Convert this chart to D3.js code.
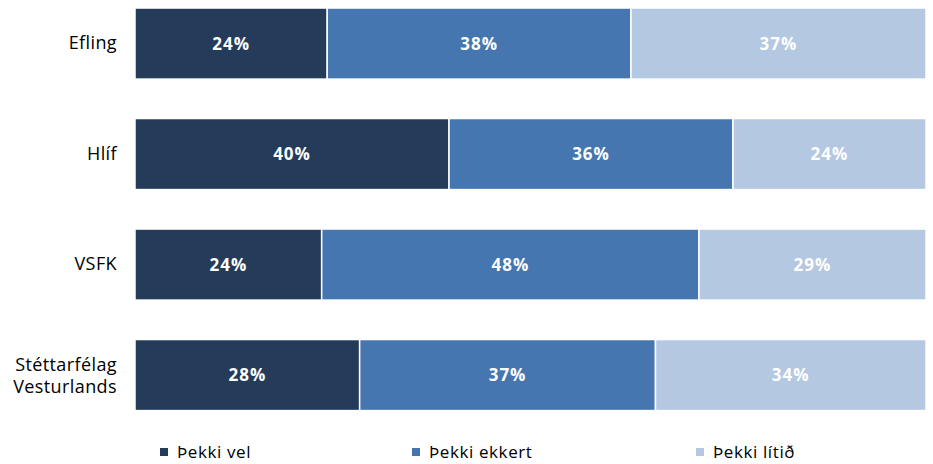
<!DOCTYPE html>
<html>
<head>
<meta charset="utf-8">
<script src="https://cdn.jsdelivr.net/npm/d3@7"></script>
<style>
  html, body { margin: 0; padding: 0; background: #ffffff; }
  svg { display: block; }
</style>
</head>
<body>
<svg id="chart" width="933" height="464"></svg>
<script>
// ---- data ----
const categories = ["Efling", "Hlíf", "VSFK", "Stéttarfélag Vesturlands"];
const seriesNames = ["Þekki vel", "Þekki ekkert", "Þekki lítið"];
const thekkiVel = [24.3, 39.7, 23.6, 28.4];
const thekkiEkkert = [38.4, 35.9, 47.7, 37.4];
const thekkiLitid = [37.3, 24.4, 28.7, 34.2];
const colors = ["#243b5a", "#4576b0", "#b4c8e2"];

// ---- build table ----
const seriesArrays = [thekkiVel, thekkiEkkert, thekkiLitid];
const rows = categories.map((c, i) => {
  const r = { cat: c };
  seriesNames.forEach((s, j) => { r[s] = seriesArrays[j][i]; });
  return r;
});

const svg = d3.select("#chart");
const font = "'Open Sans', 'DejaVu Sans', sans-serif";

const x = d3.scaleLinear().domain([0, 100]).range([135, 926]);
const y = d3.scaleBand().domain(categories).range([-11.7, 430.3])
  .paddingInner(0.357).paddingOuter(0.1785);

const stacked = d3.stack().keys(seriesNames)(rows);
const color = d3.scaleOrdinal().domain(seriesNames).range(colors);

const layers = svg.append("g").selectAll("g")
  .data(stacked).join("g")
  .attr("fill", d => color(d.key));

layers.selectAll("rect")
  .data(d => d.map(v => ({ v, key: d.key })))
  .join("rect")
  .attr("x", d => x(d.v[0]))
  .attr("y", d => y(d.v.data.cat))
  .attr("width", d => x(d.v[1]) - x(d.v[0]))
  .attr("height", y.bandwidth())
  .attr("stroke", "#ffffff")
  .attr("stroke-width", 1.5);

layers.selectAll("text")
  .data(d => d.map(v => ({ v, key: d.key })))
  .join("text")
  .attr("x", d => (x(d.v[0]) + x(d.v[1])) / 2)
  .attr("y", d => y(d.v.data.cat) + y.bandwidth() / 2)
  .attr("dy", "0.36em")
  .attr("text-anchor", "middle")
  .attr("fill", "#ffffff")
  .attr("font-family", font)
  .attr("font-weight", "bold")
  .attr("font-size", 17)
  .attr("letter-spacing", 1)
  .text(d => Math.round(d.v[1] - d.v[0]) + "%");

// ---- y axis labels ----
const yAxis = d3.axisLeft(y).tickSize(0).tickPadding(18);
const gy = svg.append("g").attr("transform", "translate(135,0)").call(yAxis);
gy.select(".domain").remove();
gy.selectAll(".tick text")
  .attr("font-family", font)
  .attr("font-size", 18)
  .attr("letter-spacing", 0.4)
  .attr("fill", "#000000")
  .each(function(d) {
    const t = d3.select(this);
    const words = d.split(" ");
    if (words.length > 1) {
      t.text(null);
      words.forEach((w, i) => {
        t.append("tspan")
          .attr("x", -18)
          .attr("dy", i === 0 ? "-0.25em" : "1.25em")
          .text(w);
      });
    }
  });

// ---- legend ----
const legendX = [160, 412, 696];
const legend = svg.append("g").selectAll("g")
  .data(seriesNames).join("g")
  .attr("transform", (d, i) => `translate(${legendX[i]},448)`);
legend.append("rect")
  .attr("width", 8).attr("height", 8)
  .attr("fill", d => color(d));
legend.append("text")
  .attr("x", 17).attr("y", 4)
  .attr("dy", "0.36em")
  .attr("font-family", font)
  .attr("font-size", 17)
  .attr("letter-spacing", 0.6)
  .attr("fill", "#000000")
  .text(d => d);
</script>
</body>
</html>
